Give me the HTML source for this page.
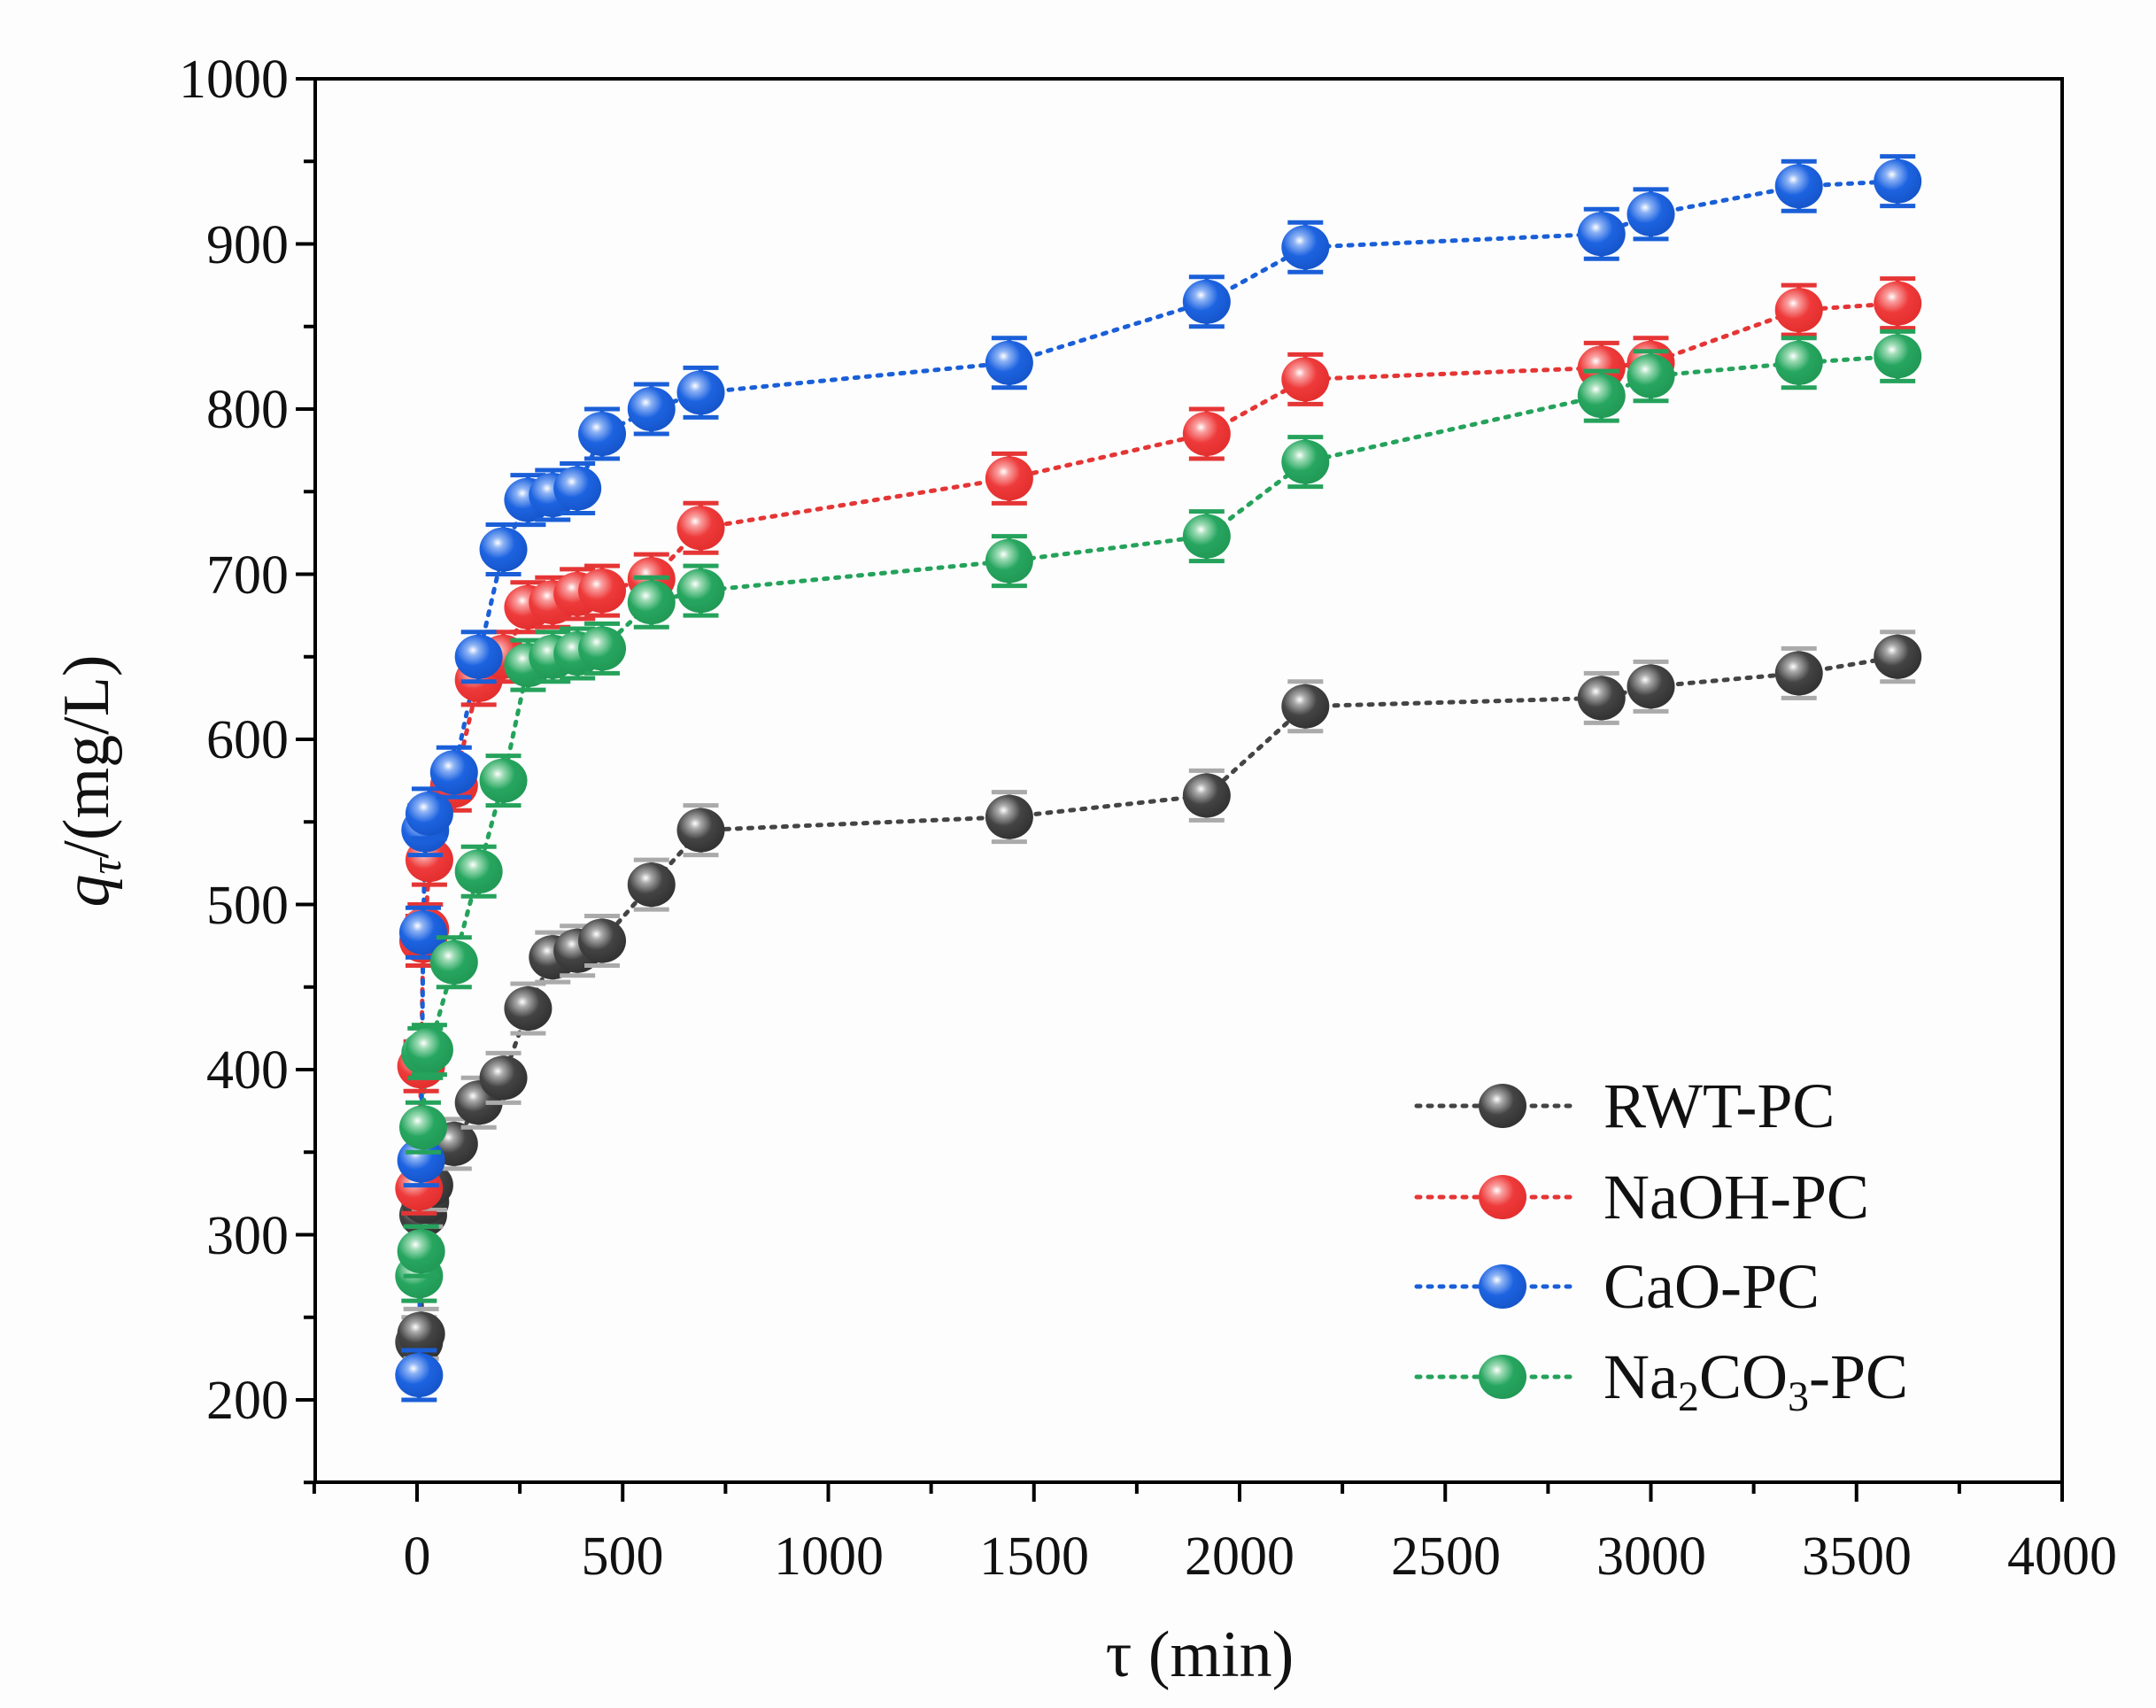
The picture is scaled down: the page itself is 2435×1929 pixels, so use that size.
<!DOCTYPE html>
<html><head><meta charset="utf-8"><style>
html,body{margin:0;padding:0;background:#fdfdfd;}
svg{display:block;}
text{font-family:"Liberation Serif",serif;fill:#111;}
</style></head><body>
<svg id="s" width="2435" height="1929" viewBox="0 0 2435 1929" xmlns="http://www.w3.org/2000/svg">
<defs>
<radialGradient id="gk" cx="0.38" cy="0.35" r="0.65"><stop offset="0" stop-color="#fff"/><stop offset="0.18" stop-color="#aaa"/><stop offset="0.55" stop-color="#444"/><stop offset="1" stop-color="#333"/></radialGradient>
<radialGradient id="gr" cx="0.38" cy="0.35" r="0.65"><stop offset="0" stop-color="#fff"/><stop offset="0.18" stop-color="#f9a0a0"/><stop offset="0.55" stop-color="#ee3a3a"/><stop offset="1" stop-color="#e42f2f"/></radialGradient>
<radialGradient id="gb" cx="0.38" cy="0.35" r="0.65"><stop offset="0" stop-color="#fff"/><stop offset="0.18" stop-color="#8fb4f5"/><stop offset="0.55" stop-color="#1d63e0"/><stop offset="1" stop-color="#1656cc"/></radialGradient>
<radialGradient id="gg" cx="0.38" cy="0.35" r="0.65"><stop offset="0" stop-color="#fff"/><stop offset="0.18" stop-color="#9fdcb6"/><stop offset="0.55" stop-color="#27a660"/><stop offset="1" stop-color="#219a56"/></radialGradient>
</defs>
<g id="data"></g>
<rect x="356" y="89" width="1973" height="1585" fill="none" stroke="#000" stroke-width="4"/>
<g id="ticks" stroke="#000" stroke-width="4"></g>
<g font-size="62" text-anchor="end">
<text x="326" y="110">1000</text><text x="326" y="297">900</text><text x="326" y="483">800</text><text x="326" y="670">700</text><text x="326" y="856">600</text><text x="326" y="1043">500</text><text x="326" y="1229">400</text><text x="326" y="1416">300</text><text x="326" y="1602">200</text>
</g>
<g font-size="62" text-anchor="middle">
<text x="471" y="1778">0</text><text x="703" y="1778">500</text><text x="936" y="1778">1000</text><text x="1168" y="1778">1500</text><text x="1400" y="1778">2000</text><text x="1633" y="1778">2500</text><text x="1865" y="1778">3000</text><text x="2097" y="1778">3500</text><text x="2329" y="1778">4000</text>
</g>
<text x="1355" y="1893" font-size="74" text-anchor="middle">τ (min)</text>
<text transform="translate(122,882) rotate(-90)" font-size="74" text-anchor="middle"><tspan font-style="italic">q</tspan><tspan font-style="italic" font-size="50" dy="14">τ</tspan><tspan dy="-14">/(mg/L)</tspan></text>
<g id="leg"></g>
<g font-size="72">
<text x="1811" y="1273">RWT-PC</text>
<text x="1811" y="1376">NaOH-PC</text>
<text x="1811" y="1477">CaO-PC</text>
<text x="1811" y="1579">Na<tspan font-size="48" dy="14">2</tspan><tspan dy="-14">CO</tspan><tspan font-size="48" dy="14">3</tspan><tspan dy="-14">-PC</tspan></text>
</g>
</svg>
<script>
var NS="http://www.w3.org/2000/svg";
function el(p,t,a){var e=document.createElementNS(NS,t);for(var k in a)e.setAttribute(k,a[k]);p.appendChild(e);return e;}
function X(t){return 471+t*0.4645;} function Y(v){return 89+(1000-v)*1.865;}
var tk=document.getElementById('ticks');
for(var v=150;v<=1000;v+=50){var y=Y(v);el(tk,'line',{x1:356,x2:(v%100==0?334:343),y1:y,y2:y});}
for(var t=-250;t<=4000;t+=250){var x=X(t);el(tk,'line',{x1:x,x2:x,y1:1674,y2:(t%500==0?1696:1687)});}
var T=[5,10,15,20,30,90,150,210,270,330,390,450,570,690,1440,1920,2160,2880,3000,3360,3600];
var S=[
 {c:'#444',g:'gk',e:'#aaa',v:[235,240,312,320,330,355,380,395,437,468,472,478,512,545,553,566,620,625,632,640,650]},
 {c:'#e53535',g:'gr',e:'#e53535',v:[328,402,478,485,527,572,636,650,680,683,688,690,697,728,758,785,818,825,828,860,864]},
 {c:'#1a5fd8',g:'gb',e:'#1a5fd8',v:[215,345,483,545,555,580,650,715,745,748,752,785,800,810,828,865,898,906,918,935,938]},
 {c:'#25a25b',g:'gg',e:'#25a25b',v:[275,290,365,410,412,465,520,575,645,650,652,655,683,690,708,723,768,808,820,828,832]}
];
var d=document.getElementById('data');
S.forEach(function(s){
 var pts=T.map(function(t,i){return X(t)+','+Y(s.v[i]);}).join(' ');
 el(d,'polyline',{points:pts,fill:'none',stroke:s.c,'stroke-width':5,'stroke-dasharray':'4 9','stroke-linecap':'round'});
});
S.forEach(function(s){
 T.forEach(function(t,i){var x=X(t),y=Y(s.v[i]);var h=28;
  el(d,'line',{x1:x,x2:x,y1:y-h,y2:y+h,stroke:s.e,'stroke-width':5});
  el(d,'line',{x1:x-20,x2:x+20,y1:y-h,y2:y-h,stroke:s.e,'stroke-width':5});
  el(d,'line',{x1:x-20,x2:x+20,y1:y+h,y2:y+h,stroke:s.e,'stroke-width':5});
  el(d,'ellipse',{cx:x,cy:y,rx:27,ry:25,fill:'url(#'+s.g+')'});
 });
});
var lg=document.getElementById('leg');var ly=[1249,1352,1453,1555];
S.forEach(function(s,i){
 el(lg,'line',{x1:1600,x2:1782,y1:ly[i],y2:ly[i],stroke:s.c,'stroke-width':5,'stroke-dasharray':'4 9','stroke-linecap':'round'});
 el(lg,'ellipse',{cx:1697,cy:ly[i],rx:27,ry:25,fill:'url(#'+s.g+')'});
});
</script>
</body></html>
